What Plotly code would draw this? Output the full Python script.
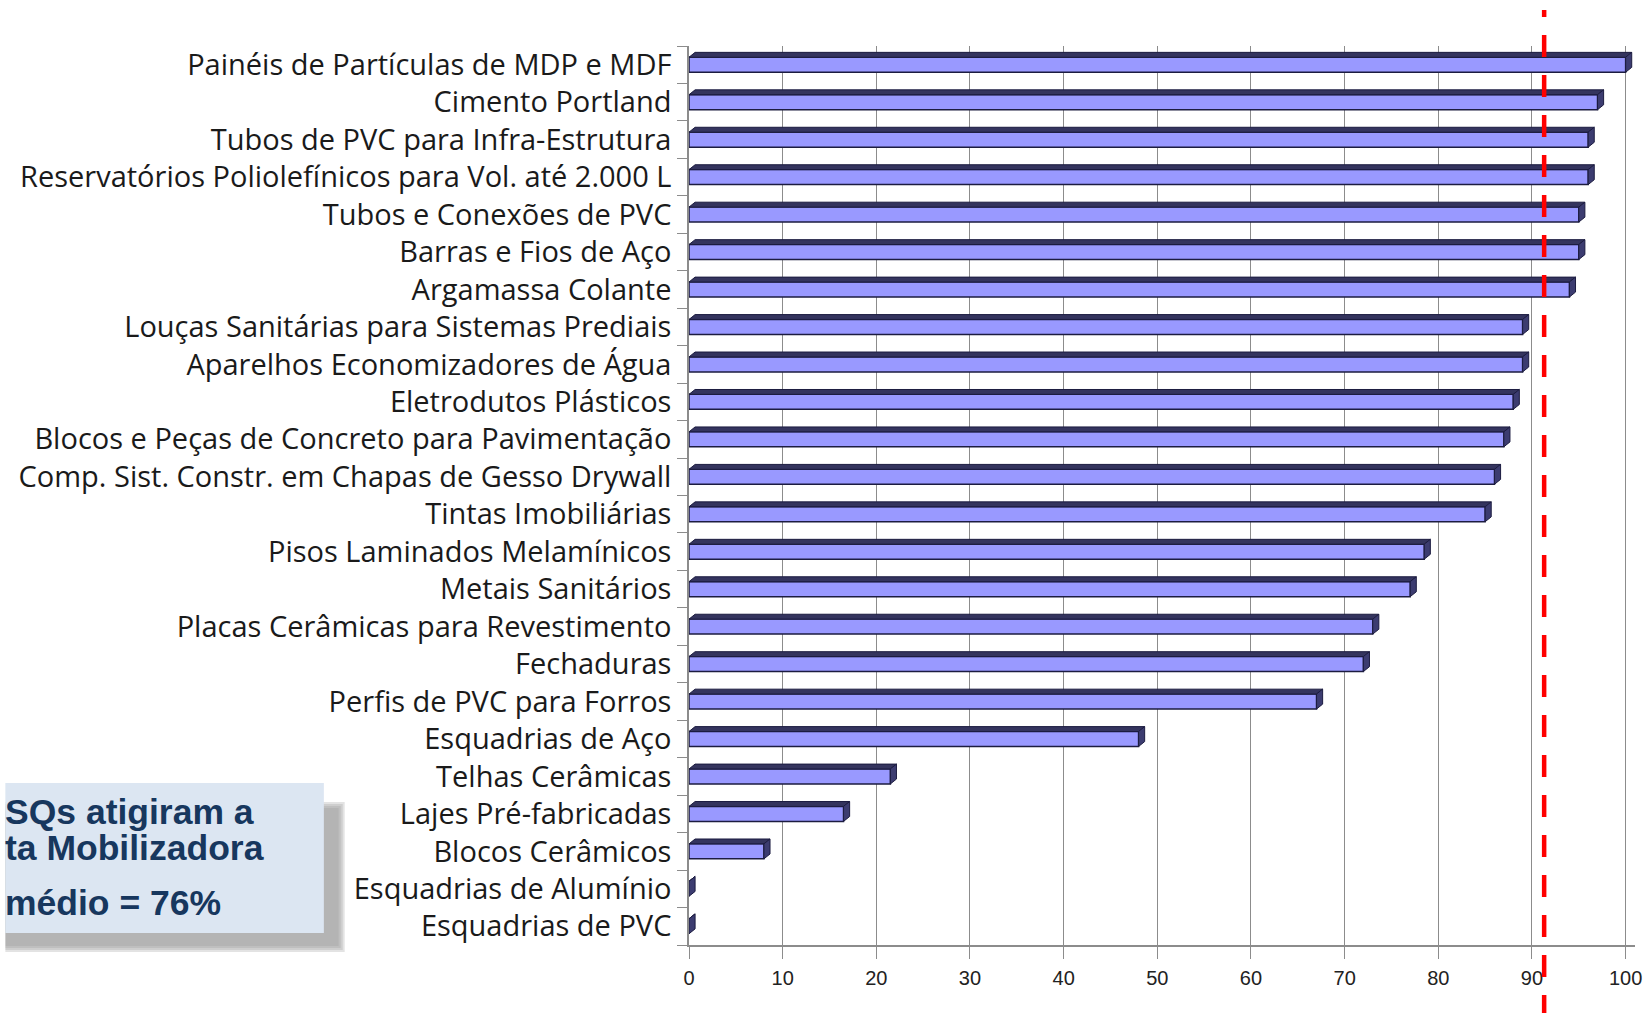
import plotly.graph_objects as go

# ---------------- data ----------------
categories = [
    "Painéis de Partículas de MDP e MDF",
    "Cimento Portland",
    "Tubos de PVC para Infra-Estrutura",
    "Reservatórios Poliolefínicos para Vol. até 2.000 L",
    "Tubos e Conexões de PVC",
    "Barras e Fios de Aço",
    "Argamassa Colante",
    "Louças Sanitárias para Sistemas Prediais",
    "Aparelhos Economizadores de Água",
    "Eletrodutos Plásticos",
    "Blocos e Peças de Concreto para Pavimentação",
    "Comp. Sist. Constr. em Chapas de Gesso Drywall",
    "Tintas Imobiliárias",
    "Pisos Laminados Melamínicos",
    "Metais Sanitários",
    "Placas Cerâmicas para Revestimento",
    "Fechaduras",
    "Perfis de PVC para Forros",
    "Esquadrias de Aço",
    "Telhas Cerâmicas",
    "Lajes Pré-fabricadas",
    "Blocos Cerâmicos",
    "Esquadrias de Alumínio",
    "Esquadrias de PVC",
]
values = [100, 97, 96, 96, 95, 95, 94, 89, 89, 88, 87, 86, 85, 78.5,
          77, 73, 72, 67, 48, 21.5, 16.5, 8, 0, 0]
x_ticks = [0, 10, 20, 30, 40, 50, 60, 70, 80, 90, 100]
meta_line = 91.3
box_lines = ["SQs atigiram a", "ta Mobilizadora", "médio = 76%"]

# ---------------- geometry ----------------
W, H = 1652, 1013
ML, MT = 689, 46
PW = 953.4
PH = 899
MR = W - ML - PW
MB = H - MT - PH

n = len(categories)
ypos = [n - 1 - i for i in range(n)]

FRONT_OFF = -0.2
FRONT_W = 0.4
DX = 0.65    # depth in x units
DY = 0.13    # depth in category units

front_col = "#9999FF"
edge_col = "#1c1c40"
top_col = "#34345e"
side_col = "#3c3c70"

fig = go.Figure()
fig.add_trace(go.Bar(
    x=values, y=ypos, orientation="h",
    width=FRONT_W, offset=FRONT_OFF,
    marker=dict(color=front_col, line=dict(color=edge_col, width=1.5)),
    hoverinfo="skip", showlegend=False,
))

# 3D top faces and side faces computed from the data
tx, ty, sx, sy = [], [], [], []
for v, y in zip(values, ypos):
    yt = y + FRONT_OFF + FRONT_W
    yb = y + FRONT_OFF
    tx += [0, v, v + DX, DX, 0, None]
    ty += [yt, yt, yt + DY, yt + DY, yt, None]
    sx += [v, v, v + DX, v + DX, v, None]
    sy += [yb, yt, yt + DY, yb + DY, yb, None]

fig.add_trace(go.Scatter(x=tx, y=ty, mode="lines", fill="toself",
                         fillcolor=top_col, line=dict(color=edge_col, width=1),
                         hoverinfo="skip", showlegend=False))
fig.add_trace(go.Scatter(x=sx, y=sy, mode="lines", fill="toself",
                         fillcolor=side_col, line=dict(color=edge_col, width=1),
                         hoverinfo="skip", showlegend=False))

# red dashed reference line
fig.add_shape(type="line", xref="x", yref="paper", x0=meta_line, x1=meta_line,
              y0=-0.08, y1=1.04, line=dict(color="#FF0000", width=4.5, dash="22px,18px"),
              layer="above")


def px2x(px):
    return (px - ML) / PW


def px2y(py):
    return 1 - (py - MT) / PH


# text box with shadow
for k, a in enumerate([0.05, 0.07, 0.09, 0.11]):
    g = 8 - 2 * k
    fig.add_shape(type="rect", xref="paper", yref="paper",
                  x0=px2x(0), x1=px2x(344 - g), y0=px2y(954 - g), y1=px2y(800 + g),
                  fillcolor=f"rgba(0,0,0,{a})", line=dict(width=0), layer="below")
fig.add_shape(type="rect", xref="paper", yref="paper",
              x0=px2x(0), x1=px2x(321), y0=px2y(933), y1=px2y(783),
              fillcolor="#DCE6F2", line=dict(width=0), layer="below")

for txt, cy in zip(box_lines, [812, 848, 903]):
    fig.add_annotation(xref="paper", yref="paper", x=px2x(-2), y=px2y(cy),
                       xanchor="left", yanchor="middle", text="<b>" + txt + "</b>",
                       showarrow=False,
                       font=dict(family="Liberation Sans", size=35.5, color="#17375E"))

fig.update_layout(
    width=W, height=H,
    margin=dict(l=ML, r=MR, t=MT, b=MB, pad=0),
    paper_bgcolor="white", plot_bgcolor="white",
    barmode="overlay",
    showlegend=False,
    xaxis=dict(range=[0, 101], tickvals=x_ticks, ticktext=[str(t) for t in x_ticks],
               showgrid=True, gridcolor="#8C8C8C", gridwidth=1.2,
               showline=True, linecolor="#8C8C8C", linewidth=1.5,
               ticks="outside", ticklen=12, tickcolor="#8C8C8C",
               ticklabelstandoff=2,
               tickfont=dict(family="Liberation Sans", size=20, color="#222222"),
               zeroline=False),
    yaxis=dict(range=[-0.5, n - 0.5], tickvals=ypos, ticktext=categories,
               showgrid=False, zeroline=False,
               showline=True, linecolor="#8C8C8C", linewidth=1.5,
               ticks="outside", ticklen=10, tickcolor="rgba(0,0,0,0)",
               minor=dict(ticks="outside", tick0=0.5, dtick=1, ticklen=10,
                          tickcolor="#8C8C8C", showgrid=False),
               tickfont=dict(family="Open Sans", size=29, color="#1A1A1A")),
)

fig.write_html("out.html", config={"displayModeBar": False},
               post_script="document.body.style.margin='0';")
